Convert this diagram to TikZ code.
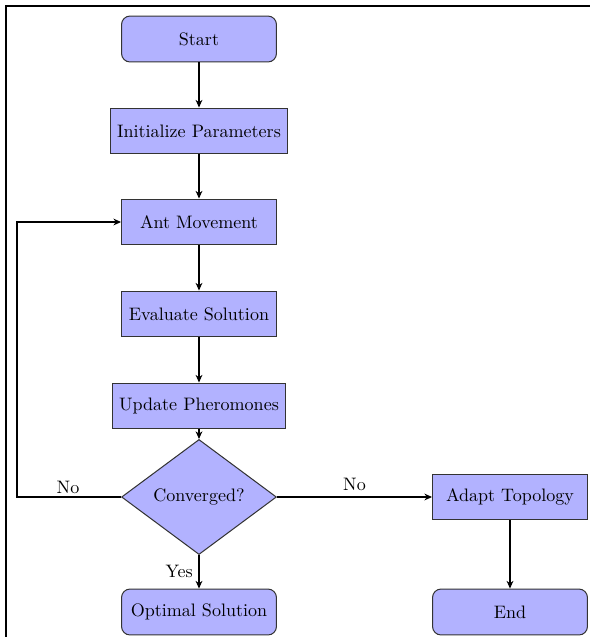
\documentclass[tikz,border=0pt]{standalone}
\usetikzlibrary{shapes.geometric,arrows.meta}
\begin{document}
\begin{tikzpicture}[x=0.5875pt,y=-0.5875pt,
  txt/.style={font=\fontsize{10.6}{12.7}\selectfont},
  base/.style={txt,draw=black!80,fill=blue!30,line width=0.6pt,minimum width=91pt,minimum height=27pt,inner sep=2pt},
  startstop/.style={base,rounded corners=5pt},
  process/.style={base},
  decision/.style={base,diamond,aspect=1.35,inner sep=1pt,minimum width=91pt,minimum height=67.6pt},
  conn/.style={draw=black,line width=0.6pt,-{Stealth[length=4.5pt,width=4pt]}},
  lbl/.style={txt}]
\useasboundingbox (0,0) rectangle (590,637);
\draw[line width=1.3pt] (6,637) -- (6,6) -- (590,6);
\node[startstop] (start) at (199,39) {Start};
\node[process, minimum width=104pt] (init) at (199,131) {Initialize Parameters};
\node[process] (ant) at (199,222) {Ant Movement};
\node[process] (eval) at (199,314) {Evaluate Solution};
\node[process, minimum width=102pt] (upd) at (199,406) {Update Pheromones};
\node[decision] (conv) at (199,497) {Converged?};
\node[startstop] (opt) at (199,612) {Optimal Solution};
\node[process] (adapt) at (510,497) {Adapt Topology};
\node[startstop] (end) at (510,612) {End};
\coordinate (lc) at (17,497);
\draw[conn] (start) -- (init);
\draw[conn] (init) -- (ant);
\draw[conn] (ant) -- (eval);
\draw[conn] (eval) -- (upd);
\draw[conn] (upd) -- (conv);
\draw[conn] (conv) -- node[lbl,left,pos=0.5] {Yes} (opt);
\draw[conn] (conv) -- node[lbl,above] {No} (adapt);
\draw[conn] (conv.west) -- (lc) |- (ant.west);
\node[lbl] (nol) at (68,487) {No};
\draw[conn] (adapt) -- (end);
\end{tikzpicture}
\end{document}
